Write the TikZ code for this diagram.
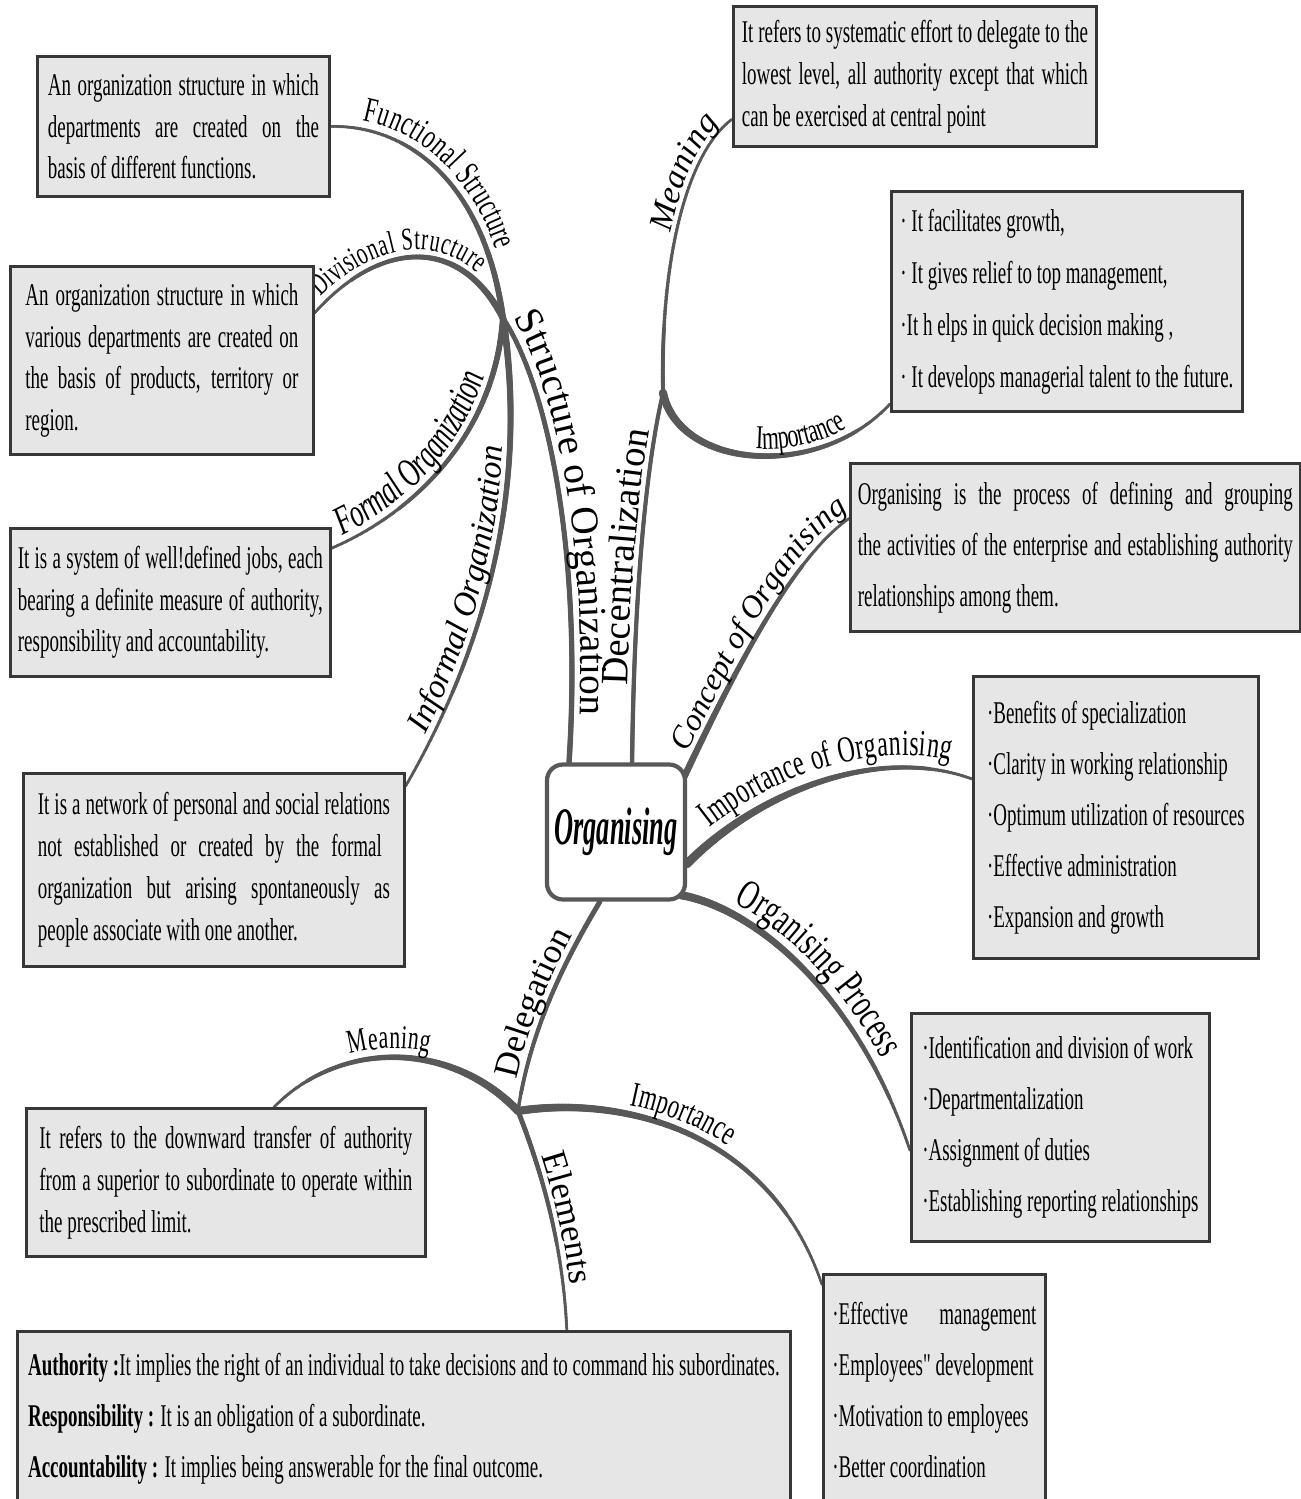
\documentclass[tikz,border=0pt]{standalone}
\usepackage{fontspec}
\setmainfont{Liberation Serif}
\newfontfamily\boxfont[FakeStretch=0.6]{Liberation Serif}
\newfontfamily\condfont[FakeStretch=0.65]{Liberation Serif}
\newfontfamily\hubfont[FakeStretch=0.5]{Liberation Serif}
\usetikzlibrary{calc,decorations.markings,decorations.text}
\definecolor{linkgray}{RGB}{88,88,88}
\definecolor{boxfill}{RGB}{230,230,230}
\definecolor{boxline}{RGB}{55,55,55}
\newcommand\labc[1]{\condfont\fontsize{#1}{#1}\selectfont}
\newcommand\labn[1]{\rmfamily\fontsize{#1}{#1}\selectfont}
\newcommand\jl[2]{\makebox[#1mm][s]{#2}}
\pgfdeclarelayer{links}
\pgfsetlayers{links,main}

\begin{document}
\begin{tikzpicture}[x=0.1mm, y=-0.1mm,
    infobox/.style={draw=boxline, fill=boxfill, line width=0.8pt, anchor=north west,
      inner sep=0pt, align=left, font=\boxfont\fontsize{9}{11.9}\selectfont},
    listbox/.style={infobox, font=\boxfont\fontsize{9}{14.5}\selectfont},
    hubnode/.style={draw=linkgray, fill=white, line width=1.2pt, rounded corners=1.6mm,
      minimum width=13.8mm, minimum height=13.5mm, inner sep=0pt,
      font=\hubfont\fontsize{15}{15}\selectfont\bfseries\itshape},
    link/.style 2 args={draw=linkgray, line width=0.7pt, line cap=round,
      postaction={decorate, decoration={markings,
        mark=between positions 0 and 1 step 0.4pt with {%
          \pgfmathsetmacro\tlw{#1+(#2-#1)*\pgfkeysvalueof{/pgf/decoration/mark info/distance from start}/\pgfdecoratedpathlength}%
          \fill[linkgray] (0,0) circle[radius=0.5*\tlw pt];}}}},
    tag/.style args={#1/#2/#3}{postaction={decorate, decoration={text along path,
      text={#1}, text align={left indent=#2}, raise=#3}}}
  ]
  \useasboundingbox (0,0) rectangle (1300,1499);

  % centre node and branch hubs
  \node[hubnode] (org) at (616,832) {Organising};
  \coordinate (soHub) at (503,318);
  \coordinate (decHub) at (663,393);
  \coordinate (delHub) at (518,1111);

  % boxes on the left
  \node[infobox, minimum width=29.2mm, minimum height=14mm] (funbox) at (36,55)
    {\jl{27.1}{An organization structure in which}\\ \jl{27.1}{departments are created on the}\\ basis of different functions.};
  \node[infobox, minimum width=30.3mm, minimum height=18.8mm] (divbox) at (9,265)
    {\jl{27.3}{An organization structure in which}\\ \jl{27.3}{various departments are created on}\\ \jl{27.3}{the basis of products, territory or}\\ region.};
  \node[infobox, minimum width=32mm, minimum height=14.8mm] (formbox) at (9,527)
    {\jl{30.5}{It is a system of well!defined jobs, each}\\ \jl{30.5}{bearing a definite measure of authority,}\\ responsibility and accountability.};
  \node[infobox, minimum width=38.1mm, minimum height=19.3mm] (infbox) at (22,772)
    {\jl{35.2}{It is a network of personal and social relations}\\ \jl{34.4}{not established or created by the formal}\\ \jl{35.2}{organization but arising spontaneously as}\\ people associate with one another.};

  % boxes on the right
  \node[infobox, minimum width=36.3mm, minimum height=14mm] (dmbox) at (732,5)
    {\jl{34.6}{It refers to systematic effort to delegate to the}\\ \jl{34.6}{lowest level, all authority except that which}\\ can be exercised at central point};
  \node[listbox, font=\boxfont\fontsize{9}{14.8}\selectfont, minimum width=35.1mm, minimum height=22mm] (dibox) at (890,190)
    {· It facilitates growth,\\ · It gives relief to top management,\\ ·It h elps in quick decision making ,\\ · It develops managerial talent to the future.};
  \node[listbox, minimum width=45mm, minimum height=16.8mm] (cbox) at (849,462)
    {\jl{43.5}{Organising is the process of defining and grouping}\\ \jl{43.5}{the activities of the enterprise and establishing authority}\\ relationships among them.};
  \node[listbox, minimum width=28.5mm, minimum height=28.2mm] (iobox) at (972,675)
    {·Benefits of specialization\\ ·Clarity in working relationship\\ ·Optimum utilization of resources\\ ·Effective administration\\ ·Expansion and growth};
  \node[listbox, minimum width=29.8mm, minimum height=22.8mm] (pbox) at (910,1012)
    {·Identification and division of work\\ ·Departmentalization\\ ·Assignment of duties\\ ·Establishing reporting relationships};

  % boxes at the bottom
  \node[infobox, minimum width=39.9mm, minimum height=14.8mm] (mbox) at (25,1107)
    {\jl{37.3}{It refers to the downward transfer of authority}\\ \jl{37.3}{from a superior to subordinate to operate within}\\ the prescribed limit.};
  \node[listbox, minimum width=77.3mm, minimum height=17.5mm] (ebox) at (16,1330)
    {\textbf{Authority :}It implies the right of an individual to take decisions and to command his subordinates.\\ \textbf{Responsibility :} It is an obligation of a subordinate.\\ \textbf{Accountability :} It implies being answerable for the final outcome.};
  \node[listbox, minimum width=22.2mm, minimum height=23.2mm] (dimbox) at (822,1273)
    {\jl{20.4}{·Effective management}\\ ·Employees" development\\ ·Motivation to employees\\ ·Better coordination};

  \begin{pgfonlayer}{links}
    % structure of organization and its branches
    \draw[link={1.4}{1.6}, tag={|\labn{11.2}|Structure of Organization/0.5mm/2.5pt}]
      (soHub) .. controls (550,390) and (582,560) .. (org.124);
    \draw[link={0.9}{1.8}, tag={|\labc{10}|Functional Structure/3mm/2.5pt}]
      (funbox.east) .. controls (410,125) and (485,185) .. (soHub);
    \draw[link={0.9}{2}, tag={|\labc{9}|Divisional Structure/1.5mm/2pt}]
      ($(divbox.north east)!0.25!(divbox.south east)$) .. controls (380,240) and (460,235) .. (soHub);
    \draw[link={0.9}{1.8}, tag={|\labc{11.5}\itshape|Formal Organization/1.5mm/2pt}]
      ($(formbox.north east)!0.14!(formbox.south east)$) .. controls (420,510) and (495,430) .. (soHub);
    \draw[link={0.9}{2}, tag={|\labn{9.5}\itshape|Informal Organization/5.5mm/2pt}]
      ($(infbox.north east)!0.07!(infbox.south east)$) .. controls (490,640) and (528,480) .. (soHub);

    % decentralization
    \draw[link={1.3}{1.2}, tag={|\labn{11}|Decentralization/7.7mm/1.8pt}]
      (org.77) .. controls (634,600) and (645,470) .. (decHub);
    \draw[link={1.2}{0.9}, tag={|\labn{9.5}\itshape|Meaning/16mm/1.5pt}]
      (decHub) .. controls (660,250) and (690,150) .. ($(dmbox.north west)!0.8!(dmbox.south west)$);
    \draw[link={2.4}{0.9}, tag={|\labc{9.5}|Importance/12mm/2pt}]
      (decHub) .. controls (680,470) and (820,480) .. ($(dibox.north west)!0.96!(dibox.south west)$);

    % concept, importance, process
    \draw[link={2}{0.9}, tag={|\labn{9}\itshape|Concept of Organising/3mm/2pt}]
      ($(org.37)!0.08!(org.center)$) .. controls (730,680) and (790,560) .. ($(cbox.north west)!0.33!(cbox.south west)$);
    \draw[link={2.6}{0.9}, tag={|\labc{10.5}|Importance of Organising/4mm/3.5pt}]
      (org.-24) .. controls (760,790) and (880,745) .. ($(iobox.north west)!0.365!(iobox.south west)$);
    \draw[link={2.4}{0.9}, tag={|\labc{12}|Organising Process/5mm/3pt}]
      ($(org.-44)!0.08!(org.center)$) .. controls (760,910) and (860,1000) .. ($(pbox.north west)!0.6!(pbox.south west)$);

    % delegation
    \draw[link={1.1}{1.5}, tag={|\labn{10}|Delegation/3mm/2pt}]
      (delHub) .. controls (530,1030) and (565,960) .. (org.-103);
    \draw[link={0.9}{2.4}, tag={|\labc{9.5}|Meaning/9mm/2.5pt}]
      ($(mbox.north west)!0.62!(mbox.north east)$) .. controls (340,1040) and (450,1040) .. (delHub);
    \draw[link={2.4}{0.8}, tag={|\labc{10}|Importance/11mm/2.5pt}]
      (delHub) .. controls (620,1095) and (770,1130) .. ($(dimbox.north west)!0.05!(dimbox.south west)$);
    \draw[link={1.5}{0.9}, tag={|\labn{10}|Elements/5mm/2pt}]
      (delHub) .. controls (545,1180) and (563,1250) .. ($(ebox.north west)!0.71!(ebox.north east)$);
  \end{pgfonlayer}
\end{tikzpicture}
\end{document}
